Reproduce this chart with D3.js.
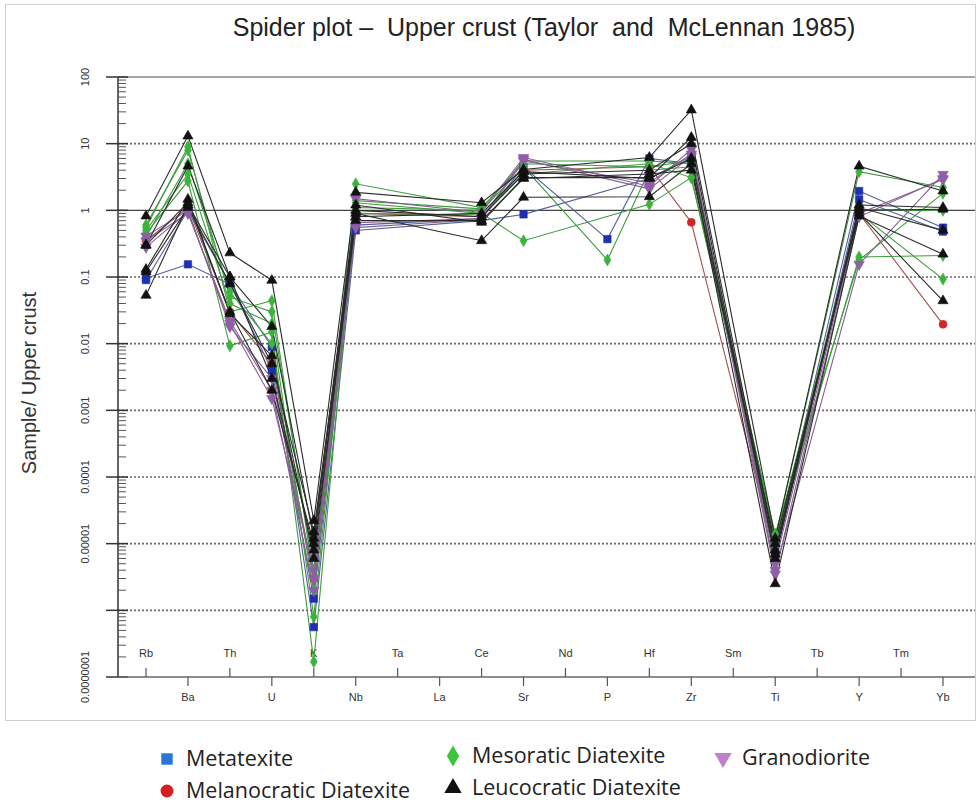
<!DOCTYPE html>
<html>
<head>
<meta charset="utf-8">
<script src="https://cdn.jsdelivr.net/npm/d3@7"></script>
<style>
  body { margin: 0; background: #fff; }
  svg { display: block; }
</style>
</head>
<body>
<svg id="chart" width="980" height="803"></svg>
<script>
// Elements along the x axis (upper-crust normalised spider diagram)
const elements = ["Rb","Ba","Th","U","K","Nb","Ta","La","Ce","Sr","Nd","P","Hf","Zr","Sm","Ti","Tb","Y","Tm","Yb"];

// y-axis decade tick labels (1e-6 is left unlabelled)
const yTickValues = [100, 10, 1, 0.1, 0.01, 0.001, 0.0001, 0.00001, 0.000001, 0.0000001];
const yTickLabels = ["100","10","1","0.1","0.01","0.001","0.0001","0.00001","","0.0000001"];

// Rock groups
const groups = ["Metatexite","Melanocratic Diatexite","Mesoratic Diatexite","Leucocratic Diatexite","Granodiorite"];

// Sample / upper crust ratios, one row per sample: [group, Rb, Ba, Th, U, K, Nb, Ce, Sr, P, Hf, Zr, Ti, Y, Yb]
const measured = ["Rb","Ba","Th","U","K","Nb","Ce","Sr","P","Hf","Zr","Ti","Y","Yb"];
const samples = [
  ["Melanocratic Diatexite", 0.35, 1.1, 0.03, 0.005, 3e-6, 0.9, 0.8, 4.0, null, 4.5, 0.66, 7e-6, 0.9, 0.0195],
  ["Metatexite", 0.096, 0.155, 0.078, 0.009, 5.6e-7, 0.5, 0.7, 0.87, null, 3.0, 6.5, 8e-6, 1.95, 0.55],
  ["Metatexite", 0.09, 1.0, 0.08, 0.004, 1.5e-6, 0.6, 0.75, 4.5, 0.37, 6.0, 5.0, 6e-6, 1.46, 0.48],
  ["Mesoratic Diatexite", 0.55, 9.0, 0.03, 0.044, 3e-6, 2.5, 1.1, 5.0, null, 4.5, 5.5, 1.2e-5, 3.8, 2.2],
  ["Mesoratic Diatexite", 0.45, 2.75, 0.0093, 0.015, 1.7e-7, 1.3, 0.9, 0.35, null, 1.23, 3.1, 1e-5, 0.2, 0.21],
  ["Mesoratic Diatexite", 0.5, 3.5, 0.04, 0.02, 8e-7, 1.1, 1.0, 4.5, 0.18, 4.0, 4.5, 9e-6, 0.9, 0.093],
  ["Mesoratic Diatexite", 0.4, 5.0, 0.06, 0.01, 2e-6, 0.9, 0.85, 3.5, null, 5.0, 3.1, 1.4e-5, 0.18, 1.8],
  ["Mesoratic Diatexite", 0.6, 8.0, 0.05, 0.03, 4e-6, 1.4, 1.05, 5.5, null, 5.5, 5.0, 1.1e-5, 1.0, 1.0],
  ["Granodiorite", 0.41, 1.0, 0.018, 0.003, 3e-6, 1.5, 0.93, 6.2, null, 2.3, 8.2, 4e-6, 0.155, 3.46],
  ["Granodiorite", 0.35, 0.9, 0.022, 0.002, 2e-6, 0.65, 0.75, 5.8, null, 2.1, 6.5, 5e-6, 0.9, 2.9],
  ["Granodiorite", 0.28, 0.95, 0.02, 0.0015, 4e-6, 0.55, 0.73, 5.5, null, 2.6, 7.0, 3.5e-6, 0.8, 3.0],
  ["Leucocratic Diatexite", 0.82, 13, 0.23, 0.089, 2.2e-5, 1.86, 1.3, 4.1, null, 6.2, 32, 1.2e-5, 4.6, 1.95],
  ["Leucocratic Diatexite", 0.3, 4.6, 0.1, 0.018, 1.2e-5, 1.2, 0.66, 3.1, null, 3.1, 12.4, 8e-6, 1.0, 1.04],
  ["Leucocratic Diatexite", 0.13, 1.46, 0.028, 0.0066, 6e-6, 0.9, 0.35, 1.57, null, 1.6, 5.0, 2.5e-6, 0.82, 0.22],
  ["Leucocratic Diatexite", 0.053, 1.2, 0.1, 0.003, 8e-6, 0.7, 0.7, 3.0, null, 3.5, 4.0, 1e-5, 0.9, 0.044],
  ["Leucocratic Diatexite", 0.3, 1.3, 0.03, 0.002, 1e-5, 1.0, 0.8, 3.5, null, 4.0, 10, 6e-6, 1.2, 1.1],
  ["Leucocratic Diatexite", 0.12, 1.1, 0.08, 0.005, 1.5e-5, 0.8, 0.9, 3.8, null, 3.0, 6.0, 7e-6, 1.1, 0.5]
];

// Per-group styling
const style = {
  "Metatexite":             { fill: "#1e2fb0", line: "#56609a", legend: "#2a76d8", symbol: d3.symbolSquare, size: 55, rot: 0 },
  "Melanocratic Diatexite": { fill: "#d02828", line: "#a05050", legend: "#d42020", symbol: d3.symbolCircle, size: 50, rot: 0 },
  "Mesoratic Diatexite":    { fill: "#3cb43c", line: "#3f9c3f", legend: "#3cc43c", symbol: d3.symbolDiamond, size: 42, rot: 0 },
  "Leucocratic Diatexite":  { fill: "#111111", line: "#2a2a2a", legend: "#111111", symbol: d3.symbolTriangle, size: 45, rot: 0 },
  "Granodiorite":           { fill: "#8e5ea6", line: "#85608f", legend: "#c47fcc", symbol: d3.symbolTriangle, size: 48, rot: 180 }
};

const svg = d3.select("#chart");

// Outer figure border
svg.append("rect").attr("x", 5.5).attr("y", 4.5).attr("width", 970).attr("height", 716)
  .attr("fill", "none").attr("stroke", "#cfcfcf").attr("stroke-width", 1);

const x = d3.scalePoint().domain(elements).range([146, 943]);
const y = d3.scaleLog().domain([1e-7, 100]).range([677, 77]);
const xLeft = 118, xRight = 975;

// Title
svg.append("text").attr("x", 544).attr("y", 36).attr("text-anchor", "middle")
  .style("white-space", "pre")
  .attr("font-family", "Liberation Sans, Arial, sans-serif").attr("font-size", 25).attr("fill", "#222")
  .text("Spider plot –  Upper crust (Taylor  and  McLennan 1985)");

// Gridlines
const grid = svg.append("g");
yTickValues.forEach(v => {
  if (v === 1e-7) return;
  const yy = y(v);
  const line = grid.append("line").attr("x1", xLeft).attr("x2", xRight).attr("y1", yy).attr("y2", yy);
  if (v === 1) line.attr("stroke", "#444").attr("stroke-width", 1.3);
  else if (v === 100) line.attr("stroke", "#888").attr("stroke-width", 1.3);
  else line.attr("stroke", "#666").attr("stroke-width", 1.6).attr("stroke-dasharray", "2,2");
});

// y axis with major and minor ticks
const yAxisG = svg.append("g");
yAxisG.append("line").attr("x1", xLeft).attr("x2", xLeft).attr("y1", y(100)).attr("y2", y(1e-7))
  .attr("stroke", "#333").attr("stroke-width", 1.5);
const minor = [];
for (let e = -7; e < 2; e++) for (let m = 2; m <= 9; m++) minor.push(m * Math.pow(10, e));
yAxisG.selectAll("line.minor").data(minor).join("line").attr("class", "minor")
  .attr("x1", xLeft).attr("x2", xLeft + 8).attr("y1", d => y(d)).attr("y2", d => y(d))
  .attr("stroke", "#555").attr("stroke-width", 1);
yAxisG.selectAll("line.major").data(yTickValues).join("line").attr("class", "major")
  .attr("x1", xLeft - 12).attr("x2", xLeft + 10).attr("y1", d => y(d)).attr("y2", d => y(d))
  .attr("stroke", "#333").attr("stroke-width", 1.5);
yAxisG.selectAll("text").data(yTickValues).join("text")
  .attr("transform", d => `translate(89,${y(d)}) rotate(-90)`)
  .attr("text-anchor", "middle").attr("font-family", "Liberation Sans, Arial, sans-serif")
  .attr("font-size", 11).attr("fill", "#333")
  .text((d, i) => yTickLabels[i]);

svg.append("text").attr("transform", "translate(36,383) rotate(-90)").attr("text-anchor", "middle")
  .attr("font-family", "Liberation Sans, Arial, sans-serif").attr("font-size", 20).attr("fill", "#333")
  .text("Sample/ Upper crust");

// x axis with alternating label rows
const xAxisG = svg.append("g");
xAxisG.append("line").attr("x1", xLeft).attr("x2", xRight).attr("y1", 677).attr("y2", 677)
  .attr("stroke", "#666").attr("stroke-width", 1.5);
xAxisG.selectAll("line.tick").data(elements).join("line").attr("class", "tick")
  .attr("x1", d => x(d)).attr("x2", d => x(d))
  .attr("y1", 677).attr("y2", (d, i) => i % 2 === 0 ? 668 : 686)
  .attr("stroke", "#555").attr("stroke-width", 1.2);
xAxisG.selectAll("text").data(elements).join("text")
  .attr("x", d => x(d)).attr("y", (d, i) => i % 2 === 0 ? 657 : 701)
  .attr("text-anchor", "middle").attr("font-family", "Liberation Sans, Arial, sans-serif")
  .attr("font-size", 11).attr("fill", "#333").text(d => d);

// Sample profiles
const rows = samples.map(r => ({
  group: r[0],
  pts: measured.map((el, i) => ({ el, v: r[i + 1] })).filter(p => p.v != null)
}));
const line = d3.line().x(p => x(p.el)).y(p => y(p.v));
const plot = svg.append("g");
plot.selectAll("path").data(rows).join("path")
  .attr("d", d => line(d.pts)).attr("fill", "none")
  .attr("stroke", d => style[d.group].line).attr("stroke-width", 1.1);

rows.forEach(r => {
  const s = style[r.group];
  const sym = d3.symbol().type(s.symbol).size(s.size);
  plot.append("g").selectAll("path").data(r.pts).join("path")
    .attr("d", sym)
    .attr("transform", p => `translate(${x(p.el)},${y(p.v)}) rotate(${s.rot})`)
    .attr("fill", s.fill).attr("stroke", s.fill).attr("stroke-width", 0.6);
});

// Legend
const legendItems = [
  { g: "Metatexite", x: 167, y: 759 },
  { g: "Melanocratic Diatexite", x: 167, y: 791 },
  { g: "Mesoratic Diatexite", x: 453, y: 756 },
  { g: "Leucocratic Diatexite", x: 453, y: 788 },
  { g: "Granodiorite", x: 723, y: 758 }
];
const leg = svg.append("g");
legendItems.forEach(it => {
  const s = style[it.g];
  leg.append("path").attr("d", d3.symbol().type(s.symbol).size(130)())
    .attr("transform", `translate(${it.x},${it.y}) rotate(${s.rot})`)
    .attr("fill", s.legend);
  leg.append("text").attr("x", it.x + 19).attr("y", it.y + 7)
    .attr("font-family", "Open Sans, Lato, sans-serif").attr("font-size", 21.5).attr("fill", "#222")
    .text(it.g);
});
</script>
</body>
</html>
